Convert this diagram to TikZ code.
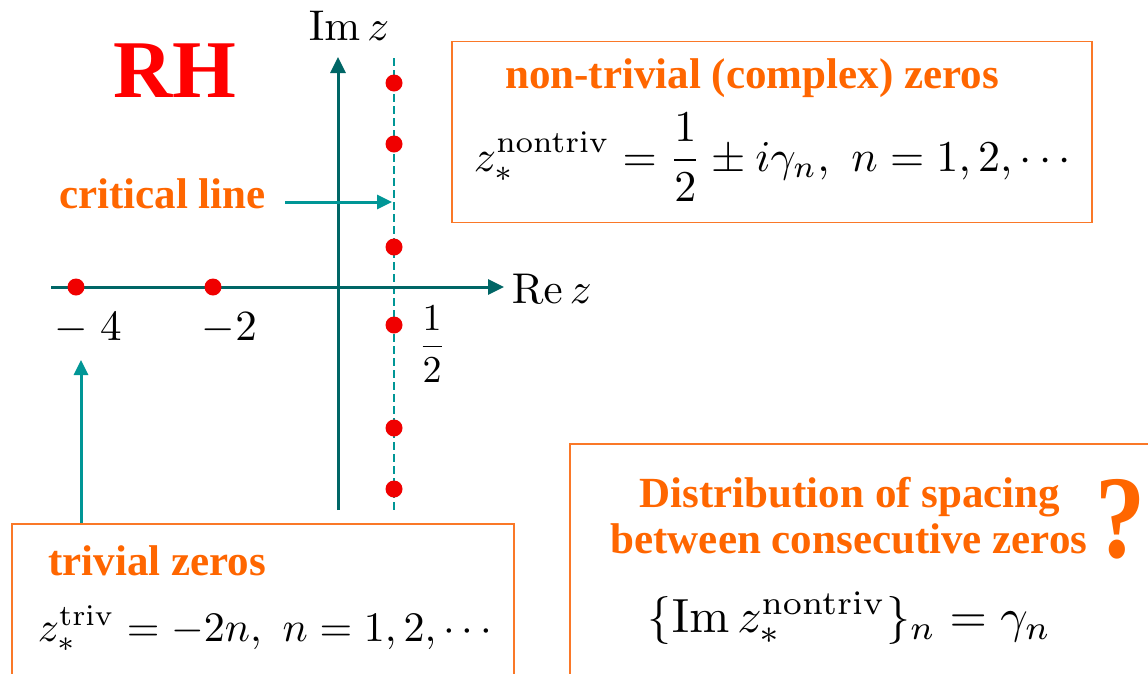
\documentclass[tikz,border=0pt]{standalone}
\usepackage[no-math]{fontspec}
\newfontfamily\serifb{Liberation Serif}
\usetikzlibrary{arrows.meta}
\definecolor{orng}{RGB}{255,102,0}
\definecolor{boxor}{RGB}{250,120,40}
\definecolor{axteal}{RGB}{0,102,102}
\definecolor{lteal}{RGB}{0,150,150}
\definecolor{dotred}{RGB}{240,0,0}
\tikzset{
  axisline/.style={draw=axteal, line width=3pt, -{Triangle[length=16pt,width=15pt]}},
  pointer/.style={draw=lteal, line width=3pt, -{Triangle[length=15pt,width=14pt]}},
  critline/.style={draw=lteal, line width=1.6pt, dash pattern=on 8pt off 4pt},
  zdot/.style={circle, fill=dotred, inner sep=0pt, minimum size=17pt},
  obox/.style={draw=boxor, line width=1.8pt, inner sep=0pt},
  otitle/.style={text=orng, font=\serifb\bfseries\fontsize{43}{47}\selectfont, inner sep=0pt},
  mathlab/.style={scale=4.3, inner sep=0pt},
}
\begin{document}
\begin{tikzpicture}[x=1pt,y=-1pt]
\useasboundingbox (0,0) rectangle (1148,673);
\clip (0,0) rectangle (1148,673);
\fill[white] (0,0) rectangle (1148,673);
% boxes
\node[obox, minimum width=640pt, minimum height=181pt] (b1) at (772,132) {};
\node[obox, minimum width=502pt, minimum height=170pt] (b2) at (263,609) {};
\node[obox, minimum width=600pt, minimum height=250pt] (b3) at (870,569) {};
% title
\node[text=red, font=\serifb\bfseries\fontsize{82}{88}\selectfont, inner sep=0pt, anchor=base] (rh) at (175,97) {RH};
% critical line
\coordinate (ctop) at (394,58);
\coordinate (cbot) at (394,510);
\draw[critline] (ctop) -- (cbot);
% axes
\coordinate (rl) at (51,287);
\coordinate (rr) at (504,287);
\coordinate (ib) at (338,510);
\coordinate (it) at (338,57);
\draw[axisline] (rl) -- (rr);
\draw[axisline] (ib) -- (it);
\node[mathlab, anchor=base west] (rez) at (511,303) {$\mathrm{Re}\,z$};
\node[mathlab, anchor=base west] (imz) at (308,40) {$\mathrm{Im}\,z$};
\node[mathlab, anchor=base west] (m4) at (54,340) {$-\;4$};
\node[mathlab, anchor=base west] (m2) at (201,340) {$-2$};
\node[scale=3.8, inner sep=0pt, anchor=base] (half) at (432,356) {$\displaystyle\frac{1}{2}$};
% zeros
\foreach \y [count=\i] in {83,144,247,325,428,489} {
  \node[zdot] (n\i) at (394,\y) {};
}
\node[zdot] (t1) at (76,287) {};
\node[zdot] (t2) at (213,287) {};
% critical line label
\node[otitle, anchor=base west] (crit) at (59,208) {critical line};
\coordinate (cs) at (285,202);
\coordinate (ce) at (392,202);
\draw[pointer] (cs) -- (ce);
% non-trivial box
\node[otitle, anchor=base] (ntt) at (752,88) {non-trivial (complex) zeros};
\node[scale=4.4, inner sep=0pt, anchor=base west] (ntf) at (473,171) {$\displaystyle z_*^{\mathrm{nontriv}}=\frac{1}{2}\pm i\gamma_n,\ n=1,2,\cdots$};
% trivial box
\node[otitle, anchor=base west] (tt) at (48,575) {trivial zeros};
\node[scale=4.2, inner sep=0pt, anchor=base west] (tf) at (37,641) {$z_*^{\mathrm{triv}}=-2n,\ n=1,2,\cdots$};
\coordinate (ta) at (81,360);
\draw[pointer] (ta |- b2.north) -- (ta);
% spacing box
\node[otitle, anchor=base] (d1) at (850,507) {Distribution of spacing};
\node[otitle, anchor=base] (d2) at (849,553) {between consecutive zeros};
\node[text=orng, font=\serifb\bfseries\fontsize{118}{124}\selectfont, inner sep=0pt, anchor=base, xscale=0.85] (q) at (1121,557) {?};
\node[scale=4.8, inner sep=0pt, anchor=base west] (sf) at (647,632) {$\{\mathrm{Im}\,z_*^{\mathrm{nontriv}}\}_n=\gamma_n$};
\end{tikzpicture}
\end{document}
